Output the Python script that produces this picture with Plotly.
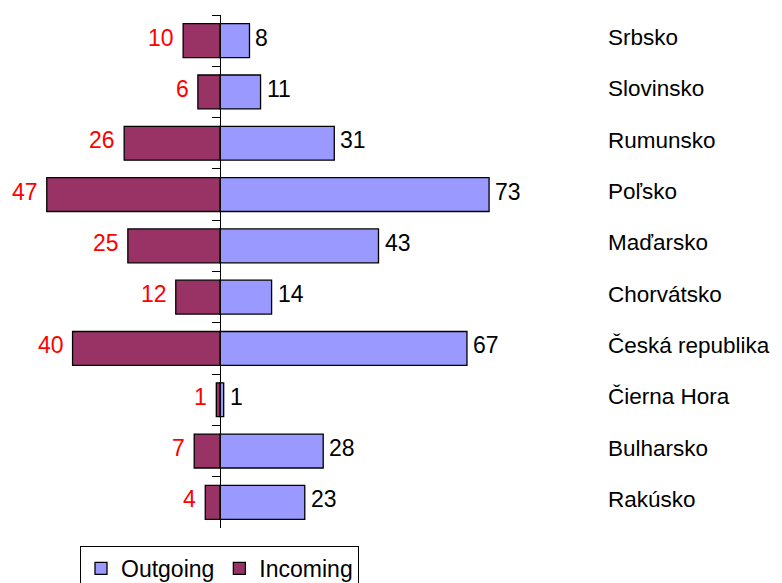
import plotly.graph_objects as go

countries = ["Srbsko", "Slovinsko", "Rumunsko", "Poľsko", "Maďarsko",
             "Chorvátsko", "Česká republika", "Čierna Hora", "Bulharsko", "Rakúsko"]
outgoing = [8, 11, 31, 73, 43, 14, 67, 1, 28, 23]
incoming = [10, 6, 26, 47, 25, 12, 40, 1, 7, 4]

BLUE = "#9999FF"
MAROON = "#993366"
FONT = "Arial, Liberation Sans, sans-serif"

fig = go.Figure()
fig.add_trace(go.Bar(
    y=countries, x=outgoing, orientation="h", name="Outgoing",
    marker=dict(color=BLUE, line=dict(color="black", width=1.3)),
))
fig.add_trace(go.Bar(
    y=countries, x=[-v for v in incoming], orientation="h", name="Incoming",
    marker=dict(color=MAROON, line=dict(color="black", width=1.3)),
))

# the page body has an 8px margin, so figure px = screen px - 8
OFF = 8
W, H = 782, 583
L = 20 - OFF
R = 560 - OFF
T = 15 - OFF
BOT = 528 - OFF
zero_px = 220 - OFF
ppu = 3.686
x0 = -(zero_px - L) / ppu
x1 = (R - zero_px) / ppu

annotations = []
for c, o, i in zip(countries, outgoing, incoming):
    annotations.append(dict(x=o, y=c, xref="x", yref="y", text=str(o),
                            showarrow=False, xanchor="left", yanchor="middle",
                            xshift=4, yshift=3,
                            font=dict(family=FONT, size=23, color="black")))
    annotations.append(dict(x=-i, y=c, xref="x", yref="y", text=str(i),
                            showarrow=False, xanchor="right", yanchor="middle",
                            xshift=-7, yshift=3,
                            font=dict(family=FONT, size=23, color="#FF0000")))
    annotations.append(dict(x=(606 - OFF - L) / (R - L), y=c, xref="paper",
                            yref="y", text=c, showarrow=False, xanchor="left",
                            yanchor="middle", yshift=3,
                            font=dict(family=FONT, size=22.5, color="black")))

fig.update_layout(
    width=W, height=H,
    margin=dict(l=L, r=W - R, t=T, b=H - BOT, autoexpand=False),
    paper_bgcolor="white", plot_bgcolor="white",
    barmode="relative", bargap=0.34,
    showlegend=True,
    legend=dict(orientation="h", xref="container", yref="container",
                x=(80 - OFF) / W, xanchor="left",
                y=(H - (546 - OFF)) / H, yanchor="top",
                bordercolor="black", borderwidth=1, bgcolor="white",
                font=dict(family=FONT, size=23, color="black"),
                traceorder="normal"),
    xaxis=dict(range=[x0, x1], visible=False, fixedrange=True),
    yaxis=dict(autorange=False, range=[9.5, -0.5], type="category",
               anchor="free", position=(zero_px - L) / (R - L),
               showline=True, linecolor="black", linewidth=1,
               ticks="outside", ticklen=8, tickcolor="black", tickwidth=1,
               tickson="boundaries", showticklabels=False, showgrid=False,
               zeroline=False, automargin=False),
    annotations=annotations,
    font=dict(family=FONT),
)

fig.write_html("out.html")
